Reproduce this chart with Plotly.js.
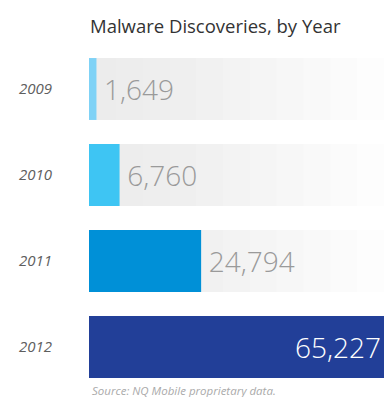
<!DOCTYPE html>
<html>
<head>
<meta charset="utf-8">
<script src="https://cdn.plot.ly/plotly-3.0.1.min.js"></script>
<style>
html,body{margin:0;padding:0;background:#fff;}
#chart{width:384px;height:397px;}
</style>
</head>
<body>
<div id="chart"></div>
<script>
// Data
var years = ['2009', '2010', '2011', '2012'];
var discoveries = [1649, 6760, 24794, 65227];
var barColors = ['#7fd2f6', '#3ec5f3', '#0090d7', '#223f98'];
var labelPositions = ['outside', 'outside', 'outside', 'inside'];
var titleText = 'Malware Discoveries, by Year';
var sourceText = 'Source: NQ Mobile proprietary data.';

var axisMax = Math.max.apply(null, discoveries);

// Background track (fading light-grey), drawn as overlaid bars shortening toward the left
var trackSteps = ['#fdfdfd', '#fbfbfb', '#f9f9f9', '#f7f7f7', '#f5f5f5', '#f3f3f3',
                  '#f1f1f1', '#efefef', '#eeeeee', '#ededed', '#ececec'];
var traces = [];
trackSteps.forEach(function (c, i) {
  var frac = 1 - i / trackSteps.length;
  traces.push({
    type: 'bar', orientation: 'h',
    y: years,
    x: years.map(function () { return axisMax * frac; }),
    marker: {color: c, line: {width: 0}},
    hoverinfo: 'skip', showlegend: false
  });
});

traces.push({
  type: 'bar', orientation: 'h',
  y: years,
  x: discoveries,
  marker: {color: barColors, line: {width: 0}},
  texttemplate: labelPositions.map(function (p) { return p === 'outside' ? '\u2009%{x:,}' : '%{x:,}'; }),
  textposition: labelPositions,
  insidetextanchor: 'end',
  cliponaxis: false,
  constraintext: 'none',
  textfont: {family: 'Open Sans, sans-serif', size: 28, weight: 300},
  outsidetextfont: {family: 'Open Sans, sans-serif', size: 28, color: '#9a9a9a', weight: 300},
  insidetextfont: {family: 'Open Sans, sans-serif', size: 28, color: '#ffffff', weight: 300},
  showlegend: false
});

var layout = {
  width: 384, height: 397,
  margin: {l: 89, r: 0, t: 46, b: 7, pad: 0},
  paper_bgcolor: '#ffffff', plot_bgcolor: '#ffffff',
  barmode: 'overlay',
  bargap: 0.28,
  showlegend: false,
  title: {
    text: titleText,
    font: {family: 'Open Sans, sans-serif', size: 18.5, color: '#333333'},
    xref: 'container', x: 90 / 384, xanchor: 'left',
    yref: 'container', y: 1 - 27 / 397, yanchor: 'middle'
  },
  xaxis: {
    range: [0, axisMax], showgrid: false, zeroline: false,
    showticklabels: false, showline: false, fixedrange: true
  },
  yaxis: {
    type: 'category', autorange: 'reversed',
    showgrid: false, zeroline: false, showline: false,
    ticks: '', ticklabelstandoff: 36,
    tickfont: {family: 'Open Sans, sans-serif', size: 15, color: '#5e5e5e', style: 'italic'},
    fixedrange: true
  },
  annotations: [{
    text: sourceText, showarrow: false,
    xref: 'paper', yref: 'paper', x: 0, y: 0,
    xanchor: 'left', yanchor: 'middle', xshift: 1,
    font: {family: 'Open Sans, sans-serif', size: 11.5, color: '#aaaaaa', style: 'italic'}
  }]
};

Plotly.newPlot('chart', traces, layout, {displayModeBar: false, staticPlot: true});
</script>
</body>
</html>
